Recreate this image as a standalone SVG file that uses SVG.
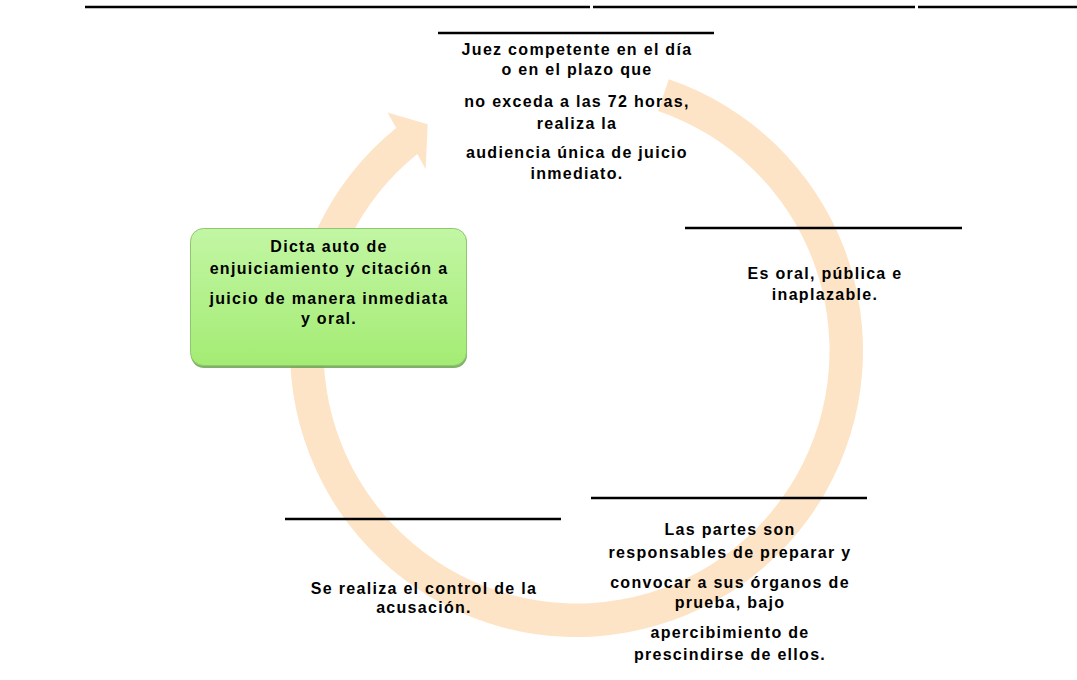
<svg xmlns="http://www.w3.org/2000/svg" width="1077" height="680" viewBox="0 0 1077 680">
<style>
.t{font-family:"Liberation Sans",Arial,sans-serif;font-weight:bold;font-size:16px;letter-spacing:1.3px;fill:#000;text-anchor:middle}
.rule{stroke:#000;stroke-width:2.6;fill:none}
</style>
<defs>
<linearGradient id="gg" x1="0" y1="0" x2="0" y2="1">
<stop offset="0" stop-color="#c2f6a4"/>
<stop offset="1" stop-color="#a4ec74"/>
</linearGradient>
</defs>
<rect width="1077" height="680" fill="#fff"/>
<g id="top-rule">
<line class="rule" x1="85" y1="7" x2="590" y2="7" stroke-width="3"/>
<line class="rule" x1="593" y1="7" x2="915" y2="7" stroke-width="3"/>
<line class="rule" x1="918" y1="7" x2="1077" y2="7" stroke-width="3"/>
</g>
<g id="connectors">
<path d="M668.8,79.3 A286.5,286.5 0 1 1 396.2,127.9 L387.5,112.5 L427.7,124.3 L425.7,169.3 L417.3,153.9 A253,253 0 1 0 658.0,111.0 Z" fill="#fee4c6"/>
</g>
<g id="node-juez">
<line class="rule" x1="438" y1="33" x2="714" y2="33"/>
<text class="t" x="577" y="55">Juez competente en el día</text>
<text class="t" x="577" y="75">o en el plazo que</text>
<text class="t" x="577" y="107">no exceda a las 72 horas,</text>
<text class="t" x="577" y="129">realiza la</text>
<text class="t" x="577" y="158">audiencia única de juicio</text>
<text class="t" x="577" y="179">inmediato.</text>
</g>
<g id="node-oral">
<line class="rule" x1="685" y1="228" x2="962" y2="228"/>
<text class="t" x="825" y="279">Es oral, pública e</text>
<text class="t" x="825" y="300">inaplazable.</text>
</g>
<g id="node-partes">
<line class="rule" x1="591" y1="498" x2="867" y2="498"/>
<text class="t" x="730" y="535">Las partes son</text>
<text class="t" x="730" y="558">responsables de preparar y</text>
<text class="t" x="730" y="588">convocar a sus órganos de</text>
<text class="t" x="730" y="608">prueba, bajo</text>
<text class="t" x="730" y="638">apercibimiento de</text>
<text class="t" x="730" y="660">prescindirse de ellos.</text>
</g>
<g id="node-control">
<line class="rule" x1="285" y1="519" x2="561" y2="519"/>
<text class="t" x="424" y="594">Se realiza el control de la</text>
<text class="t" x="424" y="613">acusación.</text>
</g>
<g id="node-dicta">
<rect x="191" y="230" width="276" height="138" rx="13" fill="#5f9e42" opacity="0.8"/>
<rect x="190.5" y="228.5" width="276" height="137" rx="13" fill="url(#gg)" stroke="#8fc76e" stroke-width="1"/>
<text class="t" x="329" y="252">Dicta auto de</text>
<text class="t" x="329" y="274">enjuiciamiento y citación a</text>
<text class="t" x="329" y="304">juicio de manera inmediata</text>
<text class="t" x="329" y="324">y oral.</text>
</g>
</svg>
